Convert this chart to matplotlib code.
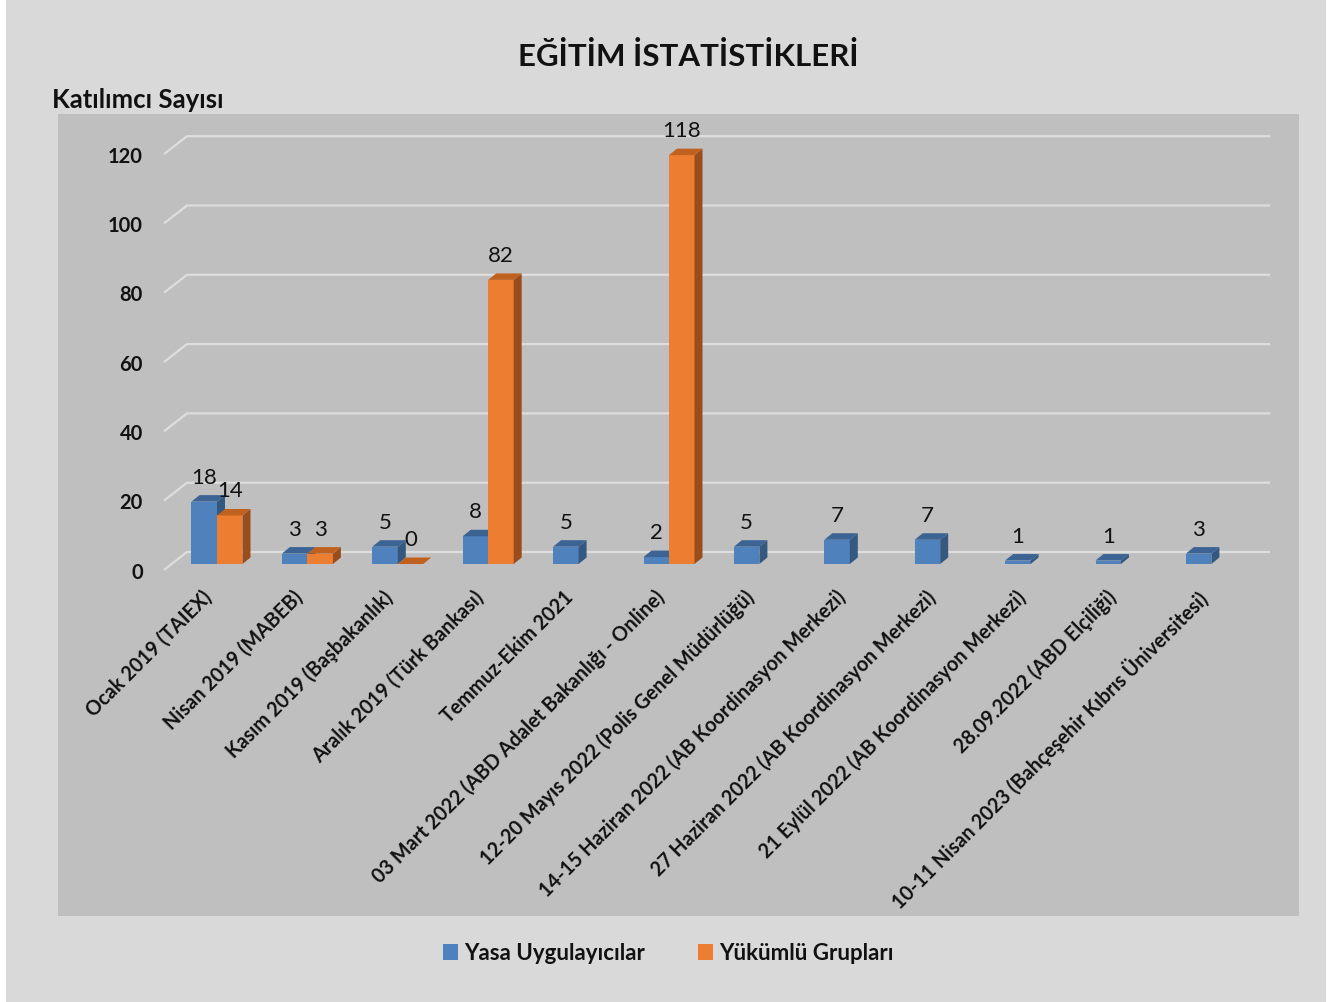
import numpy as np
import matplotlib
matplotlib.use("Agg")
import matplotlib.pyplot as plt
from matplotlib.patches import Polygon, Patch, Rectangle

plt.rcParams['font.family'] = ['Lato', 'DejaVu Sans']

categories = [
    "Ocak 2019 (TAIEX)",
    "Nisan 2019 (MABEB)",
    "Kasım 2019 (Başbakanlık)",
    "Aralık 2019 (Türk Bankası)",
    "Temmuz-Ekim 2021",
    "03 Mart 2022 (ABD Adalet Bakanlığı - Online)",
    "12-20 Mayıs 2022 (Polis Genel Müdürlüğü)",
    "14-15 Haziran 2022 (AB Koordinasyon Merkezi)",
    "27 Haziran 2022 (AB Koordinasyon Merkezi)",
    "21 Eylül 2022 (AB Koordinasyon Merkezi)",
    "28.09.2022 (ABD Elçiliği)",
    "10-11 Nisan 2023 (Bahçeşehir Kıbrıs Üniversitesi)",
]
yasa = [18, 3, 5, 8, 5, 2, 5, 7, 7, 1, 1, 3]
yukumlu = [14, 3, 0, 82, None, 118, None, None, None, None, None, None]
series_names = ["Yasa Uygulayıcılar", "Yükümlü Grupları"]
yticks = [0, 20, 40, 60, 80, 100, 120]
title = "EĞİTİM İSTATİSTİKLERİ"
ylabel = "Katılımcı Sayısı"

W, H = 1333, 1003
fig = plt.figure(figsize=(W / 100, H / 100), dpi=100)
fig.patch.set_facecolor('white')
# outer chart area
bg = Rectangle((6 / W, 0), (1326 - 6) / W, 1 - 1 / H, transform=fig.transFigure,
               facecolor='#d9d9d9', edgecolor='none', zorder=-10)
fig.add_artist(bg)

L, R, T, B = 58, 1299, 115, 917
ax = fig.add_axes([L / W, (H - B) / H, (R - L) / W, (B - T) / H])
ax.set_zorder(1)
ax.set_facecolor('#bfbfbf')
for s in ax.spines.values():
    s.set_visible(False)
ax.set_xticks([])
ax.set_yticks([])

cx0, cstep = 217, 90.4
y0px, yscale = 565, 3.465
ax.set_xlim((L - cx0) / cstep, (R - cx0) / cstep)
ax.set_ylim(-(B - y0px) / yscale, (y0px - T) / yscale)

dx = 8 / cstep
dy = 6.5 / yscale
bw = 25.5 / cstep

# gridlines (back wall + floor diagonals)
gx_front, gx_back, gx_end = (164 - cx0) / cstep, (187 - cx0) / cstep, (1270 - cx0) / cstep
g_front_dy, g_back_dy = -1.7, 12 / yscale
for v in yticks:
    ax.plot([gx_front, gx_back, gx_end], [v + g_front_dy, v + g_back_dy, v + g_back_dy],
            color='#dedede', lw=1.6, zorder=1, solid_capstyle='butt')
    ax.text((143 - cx0) / cstep, v + g_front_dy - 0.5, str(v), ha='right', va='center',
            fontsize=14.5, fontweight='bold', color='#111111')

x = np.arange(len(categories))


def bar3d(xl, v, front, top, side, z):
    ax.add_patch(Rectangle((xl, 0), bw, v, facecolor=front, edgecolor='none', zorder=z))
    ax.add_patch(Polygon([(xl + bw, 0), (xl + bw + dx, dy), (xl + bw + dx, v + dy), (xl + bw, v)],
                         closed=True, facecolor=side, edgecolor='none', zorder=z))
    ax.add_patch(Polygon([(xl, v), (xl + dx, v + dy), (xl + bw + dx, v + dy), (xl + bw, v)],
                         closed=True, facecolor=top, edgecolor='none', zorder=z))


blue = ('#4f81bd', '#3b6394', '#34587f')
orange = ('#ed7d31', '#c0611f', '#9a4d1c')

for i, v in enumerate(yasa):
    bar3d(x[i] - bw, v, *blue, z=3)
    ax.annotate(str(v), (x[i] - bw / 2, v), xytext=(0, 13.7), textcoords='offset points',
                ha='center', va='baseline', fontsize=16, color='#111111', zorder=6)
for i, v in enumerate(yukumlu):
    if v is None:
        continue
    bar3d(x[i], v, *orange, z=4)
    ax.annotate(str(v), (x[i] + bw / 2, v), xytext=(0, 13.7), textcoords='offset points',
                ha='center', va='baseline', fontsize=16, color='#111111', zorder=6)

# category labels
for i, c in enumerate(categories):
    ax.text(x[i] - 15 / cstep, (y0px - 587) / yscale, c, rotation=45, ha='right', va='top',
            rotation_mode='anchor', fontsize=14.2, fontweight='bold', color='#111111')

fig.text(688 / W, 1 - 56 / H, title, ha='center', va='center', fontsize=22.5,
         fontweight='bold', color='#111111')
fig.text(52 / W, 1 - 108 / H, ylabel, ha='left', va='baseline', fontsize=18.5,
         fontweight='bold', color='#111111')

handles = [Patch(facecolor=blue[0]), Patch(facecolor=orange[0])]
leg = fig.legend(handles, series_names, loc='center', bbox_to_anchor=(668 / W, 1 - 954 / H),
                 ncol=2, frameon=False, handlelength=0.7, handleheight=0.7,
                 handletextpad=0.25, columnspacing=2.4,
                 prop={'weight': 'bold', 'size': 16})
for t in leg.get_texts():
    t.set_color('#111111')

fig.savefig('out.png', dpi=100, facecolor=fig.get_facecolor())
